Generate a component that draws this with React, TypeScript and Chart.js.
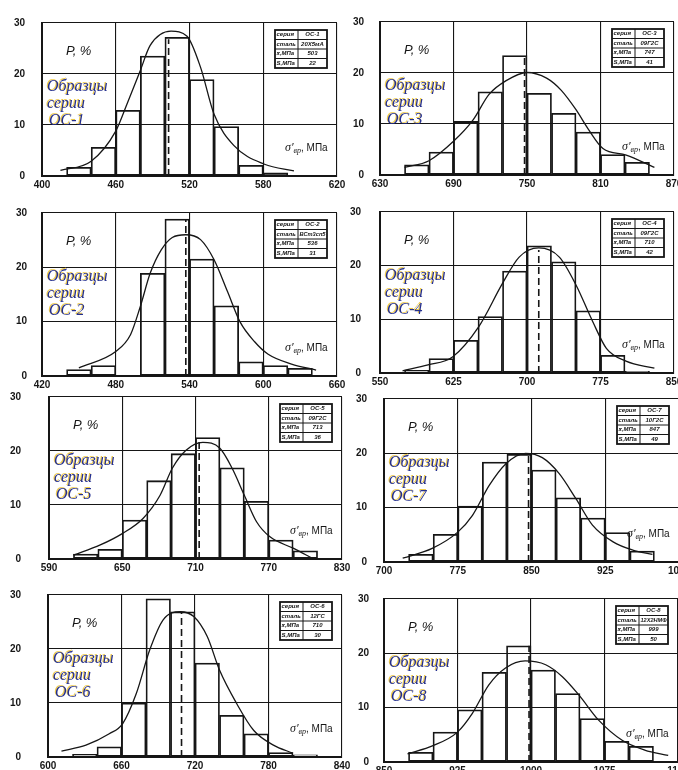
import React, { useEffect, useRef } from 'react';
import { Chart, registerables } from 'chart.js';
Chart.register(...registerables);

// ---------- data (reading order: OC-1, OC-3, OC-2, OC-4, OC-5, OC-7, OC-6, OC-8) ----------
const seriesNames = ['ОС-1', 'ОС-3', 'ОС-2', 'ОС-4', 'ОС-5', 'ОС-7', 'ОС-6', 'ОС-8'];
const steelNames = ['20Х5мА', '09Г2С', 'ВСт3сп5', '09Г2С', '09Г2С', '10Г2С', '12ГС', '12Х2НМФ'];
const meanValues = [503, 747, 536, 710, 713, 847, 710, 999];
const stdValues = [22, 41, 31, 42, 36, 49, 30, 50];
const meanLineX = [503, 748, 537, 712, 713, 847, 709, 998];
const meanLineTop = [26.8, 23.4, 28.7, 22.9, 21.7, 20.0, 26.9, 21.4];
const axisMin = [400, 630, 420, 550, 590, 700, 600, 850];
const axisMax = [640, 870, 660, 850, 830, 1000, 840, 1150];
const axisStep = [60, 60, 60, 75, 60, 75, 60, 75];

const oc1Ticks = ['400', '460', '520', '580', '620'];
const oc1Bins = [430, 450, 470, 490, 510, 530, 550, 570, 590];
const oc1Freq = [1.7, 5.6, 12.9, 23.5, 27.2, 18.9, 9.7, 2.1, 0.6];
const oc1CurveX = [415, 440, 460, 469, 480, 488, 505, 518, 529, 540, 556, 581, 605];
const oc1CurveY = [1.1, 2.9, 8.8, 14, 20.7, 25.6, 28.4, 27.4, 21.3, 12.1, 6, 2.3, 1.0];

const oc3Ticks = ['630', '690', '750', '810', '870'];
const oc3Bins = [660, 680, 700, 720, 740, 760, 780, 800, 820, 840];
const oc3Freq = [2.0, 4.5, 10.5, 16.3, 23.4, 16.0, 12.1, 8.4, 4.0, 2.5];
const oc3CurveX = [650, 670, 690, 706, 719, 733, 750, 766, 778, 790, 800, 812, 831, 854];
const oc3CurveY = [1.5, 2.8, 6.6, 10.8, 15.8, 18.5, 20.1, 19.0, 16.6, 12.8, 9.0, 5.2, 3.9, 1.5];

const oc2Ticks = ['420', '480', '540', '600', '660'];
const oc2Bins = [450, 470, 490, 510, 530, 550, 570, 590, 610, 630];
const oc2Freq = [1.2, 1.9, 0, 18.9, 28.9, 21.5, 12.9, 2.6, 1.9, 1.4];
const oc2CurveX = [450, 480, 492, 500, 508, 517, 526, 537, 549, 560, 571, 581, 593, 604, 623, 643];
const oc2CurveY = [1.5, 4.5, 7.6, 12.8, 18.9, 23.2, 25.5, 26.0, 25.1, 21.4, 15.5, 10.0, 6.3, 4.0, 2.2, 1.1];

const oc4Ticks = ['550', '625', '700', '775', '850'];
const oc4Bins = [587.5, 612.5, 637.5, 662.5, 687.5, 712.5, 737.5, 762.5, 787.5, 812.5];
const oc4Freq = [0.5, 2.7, 6.1, 10.5, 19.0, 23.7, 20.7, 11.6, 3.3, 0.3];
const oc4CurveX = [573, 599, 624, 651, 675, 692, 712, 733, 750, 767, 781, 801, 830];
const oc4CurveY = [0.4, 1.5, 3, 8.7, 16.7, 21.6, 23.3, 21.6, 16.4, 9.6, 4.6, 2.2, 0.9];

const oc5Ticks = ['590', '650', '710', '770', '830'];
const oc5Bins = [620, 640, 660, 680, 700, 720, 740, 760, 780, 800];
const oc5Freq = [0.9, 1.8, 7.2, 14.5, 19.5, 22.5, 16.9, 10.7, 3.5, 1.5];
const oc5CurveX = [610, 632, 650, 667, 681, 691, 702, 716, 730, 740, 750, 760, 771, 790, 806];
const oc5CurveY = [0.7, 2.6, 4.7, 7.5, 11.8, 16.8, 20.1, 21.6, 20.5, 16.8, 11.8, 6.9, 4.1, 2.0, 0.1];

const oc7Ticks = ['700', '775', '850', '925', '1000'];
const oc7Bins = [737.5, 762.5, 787.5, 812.5, 837.5, 862.5, 887.5, 912.5, 937.5, 962.5];
const oc7Freq = [1.4, 5.1, 10.3, 18.4, 19.8, 16.9, 11.8, 8.1, 5.4, 2.0];
const oc7CurveX = [719, 749, 775, 790, 807, 824, 844, 861, 878, 895, 912, 933, 953, 973];
const oc7CurveY = [0.7, 2.5, 5.5, 8.6, 14.1, 18.1, 20.0, 19.2, 16.3, 11.7, 6.8, 3.7, 2.2, 1.4];

const oc6Ticks = ['600', '660', '720', '780', '840'];
const oc6Bins = [630, 650, 670, 690, 710, 730, 750, 770, 790, 810];
const oc6Freq = [0.5, 1.9, 10.0, 29.3, 26.9, 17.4, 7.7, 4.3, 0.8, 0.4];
const oc6CurveX = [611, 631, 650, 661, 672, 683, 694, 708, 719, 730, 740, 754, 768, 784, 800];
const oc6CurveY = [1.1, 2.2, 4.3, 6.2, 11.7, 19.8, 25.4, 26.9, 26.0, 22.3, 16.1, 9.9, 4.9, 2.2, 0.7];

const oc8Ticks = ['850', '925', '1000', '1075', '1150'];
const oc8Bins = [887.5, 912.5, 937.5, 962.5, 987.5, 1012.5, 1037.5, 1062.5, 1087.5, 1112.5];
const oc8Freq = [1.8, 5.5, 9.6, 16.5, 21.4, 16.9, 12.6, 8.0, 3.8, 2.9];
const oc8CurveX = [874, 900, 925, 940, 957, 974, 994, 1015, 1032, 1049, 1069, 1093, 1116, 1140];
const oc8CurveY = [1.5, 3.0, 5.5, 8.9, 14.2, 17.3, 18.6, 17.9, 15.7, 12.3, 7.7, 4.0, 2.2, 1.2];

const tickSets = [oc1Ticks, oc3Ticks, oc2Ticks, oc4Ticks, oc5Ticks, oc7Ticks, oc6Ticks, oc8Ticks];
const binSets = [oc1Bins, oc3Bins, oc2Bins, oc4Bins, oc5Bins, oc7Bins, oc6Bins, oc8Bins];
const freqSets = [oc1Freq, oc3Freq, oc2Freq, oc4Freq, oc5Freq, oc7Freq, oc6Freq, oc8Freq];
const curveXSets = [oc1CurveX, oc3CurveX, oc2CurveX, oc4CurveX, oc5CurveX, oc7CurveX, oc6CurveX, oc8CurveX];
const curveYSets = [oc1CurveY, oc3CurveY, oc2CurveY, oc4CurveY, oc5CurveY, oc7CurveY, oc6CurveY, oc8CurveY];

// ---------- layout (plot areas in page pixels) ----------
const plotAreas = [
  { l: 42, t: 13, r: 337, b: 176, pad: 17 },
  { l: 380, t: 13, r: 674, b: 175, pad: 16 },
  { l: 42, t: 213, r: 337, b: 376, pad: 15 },
  { l: 380, t: 212, r: 674, b: 373, pad: 19 },
  { l: 49, t: 397, r: 342, b: 559, pad: 28 },
  { l: 384, t: 399, r: 679, b: 562, pad: 17 },
  { l: 48, t: 595, r: 342, b: 757, pad: 27 },
  { l: 384, t: 599, r: 678, b: 762, pad: 15 },
];

const CW = 720;
const CH = 800;
const Y_AXIS_W = 40;
const X_AXIS_H = 20;
const INK = '#161616';
const tickFont = { family: '"Liberation Sans", Arial, sans-serif', size: 10, weight: 'bold' as const };

function Panel({ idx }: { idx: number }) {
  const ref = useRef<HTMLCanvasElement | null>(null);
  useEffect(() => {
    if (!ref.current) return;
    const a = plotAreas[idx];
    const ticks = tickSets[idx];
    const overlay = {
      id: 'overlay' + idx,
      afterDraw(chart: any) {
        const ctx = chart.ctx as CanvasRenderingContext2D;
        const ca = chart.chartArea;
        ctx.save();
        // P, %
        ctx.fillStyle = INK;
        ctx.textBaseline = 'middle';
        ctx.textAlign = 'left';
        ctx.font = 'italic 13px "Liberation Sans", sans-serif';
        ctx.fillText('Р, %', ca.left + 24, ca.top + 28);
        // series caption
        ctx.font = 'italic 16px "Liberation Serif", serif';
        ctx.fillStyle = '#25308f';
        ctx.shadowColor = 'rgba(235,190,30,0.8)';
        ctx.shadowOffsetX = -1;
        ctx.shadowOffsetY = -1;
        ctx.shadowBlur = 0;
        ctx.fillText('Образцы', ca.left + 5, ca.top + 64);
        ctx.fillText('серии', ca.left + 5, ca.top + 81);
        ctx.fillText(seriesNames[idx], ca.left + 7, ca.top + 98);
        ctx.shadowColor = 'rgba(0,0,0,0)';
        ctx.shadowOffsetX = 0;
        ctx.shadowOffsetY = 0;
        // sigma label
        ctx.fillStyle = INK;
        let x0 = ca.right - 52;
        const y0 = ca.bottom - 28;
        ctx.font = 'italic 12px "Liberation Serif", serif';
        ctx.fillText("σ′", x0, y0);
        x0 += ctx.measureText("σ′").width;
        ctx.font = 'italic 8px "Liberation Serif", serif';
        ctx.fillText('вр', x0, y0 + 3);
        x0 += ctx.measureText('вр').width;
        ctx.font = '10px "Liberation Sans", sans-serif';
        ctx.fillText(', МПа', x0, y0);
        // table
        const tx = ca.right - 62;
        const ty = ca.top + 7;
        const tw = 52;
        const th = 38;
        const c1 = 23;
        ctx.fillStyle = '#fff';
        ctx.fillRect(tx, ty, tw, th);
        ctx.strokeStyle = INK;
        ctx.lineWidth = 1.8;
        ctx.strokeRect(tx, ty, tw, th);
        ctx.lineWidth = 1;
        ctx.beginPath();
        for (let r = 1; r < 4; r++) {
          ctx.moveTo(tx, ty + (th * r) / 4);
          ctx.lineTo(tx + tw, ty + (th * r) / 4);
        }
        ctx.moveTo(tx + c1, ty);
        ctx.lineTo(tx + c1, ty + th);
        ctx.stroke();
        const leftCol = ['серия', 'сталь', 'x̄,МПа', 'S,МПа'];
        const rightCol = [seriesNames[idx], steelNames[idx], String(meanValues[idx]), String(stdValues[idx])];
        ctx.fillStyle = INK;
        ctx.font = 'bold italic 6px "Liberation Sans", sans-serif';
        for (let r = 0; r < 4; r++) {
          const cy = ty + (th * (r + 0.5)) / 4;
          ctx.textAlign = 'left';
          ctx.fillText(leftCol[r], tx + 1.5, cy, c1 - 3);
          ctx.textAlign = 'center';
          ctx.fillText(rightCol[r], tx + c1 + (tw - c1) / 2, cy, tw - c1 - 3);
        }
        ctx.restore();
      },
    };
    const chart = new Chart(ref.current, {
      type: 'bar',
      data: {
        datasets: [
          {
            type: 'line',
            data: curveXSets[idx].map((x, i) => ({ x, y: curveYSets[idx][i] })),
            borderColor: INK,
            borderWidth: 1.3,
            pointRadius: 0,
            cubicInterpolationMode: 'monotone',
            fill: false,
            order: 1,
          } as any,
          {
            type: 'line',
            data: [
              { x: meanLineX[idx], y: 0 },
              { x: meanLineX[idx], y: meanLineTop[idx] },
            ],
            borderColor: INK,
            borderWidth: 1.6,
            borderDash: [7, 4],
            pointRadius: 0,
            fill: false,
            order: 2,
          } as any,
          {
            type: 'bar',
            data: binSets[idx].map((x, i) => ({ x, y: freqSets[idx][i] })),
            backgroundColor: 'rgba(0,0,0,0)',
            borderColor: INK,
            borderWidth: 1.1,
            borderSkipped: false,
            barPercentage: 1,
            categoryPercentage: 1,
            order: 3,
          } as any,
        ],
      },
      options: {
        responsive: false,
        animation: false,
        events: [],
        layout: {
          padding: { left: a.l - Y_AXIS_W, top: a.t, right: CW - a.r, bottom: CH - a.b - X_AXIS_H },
        },
        plugins: { legend: { display: false }, tooltip: { enabled: false } },
        scales: {
          x: {
            type: 'linear',
            min: axisMin[idx],
            max: axisMax[idx],
            offset: false,
            afterFit: (s: any) => {
              s.height = X_AXIS_H;
            },
            grid: { color: INK, lineWidth: 1.1, drawTicks: false, offset: false },
            border: { color: INK, width: 2 },
            ticks: {
              stepSize: axisStep[idx],
              padding: 3,
              maxRotation: 0,
              autoSkip: false,
              color: INK,
              font: tickFont,
              callback: (_v: any, i: number) => ticks[i],
            },
          },
          y: {
            min: 0,
            max: 30,
            afterFit: (s: any) => {
              s.width = Y_AXIS_W;
            },
            grid: { color: INK, lineWidth: 1.1, drawTicks: false },
            border: { color: INK, width: 2 },
            ticks: { stepSize: 10, padding: a.pad, color: INK, font: tickFont },
          },
        } as any,
      },
      plugins: [overlay],
    } as any);
    return () => chart.destroy();
  }, [idx]);
  return (
    <canvas
      ref={ref}
      width={CW}
      height={CH}
      style={{ position: 'absolute', left: 0, top: 0, width: CW, height: CH }}
    />
  );
}

export default function App() {
  return (
    <div
      style={{
        position: 'absolute',
        left: 0,
        top: 0,
        width: 678,
        height: 770,
        overflow: 'hidden',
        background: '#fff',
      }}
    >
      {plotAreas.map((_, i) => (
        <Panel key={i} idx={i} />
      ))}
    </div>
  );
}
